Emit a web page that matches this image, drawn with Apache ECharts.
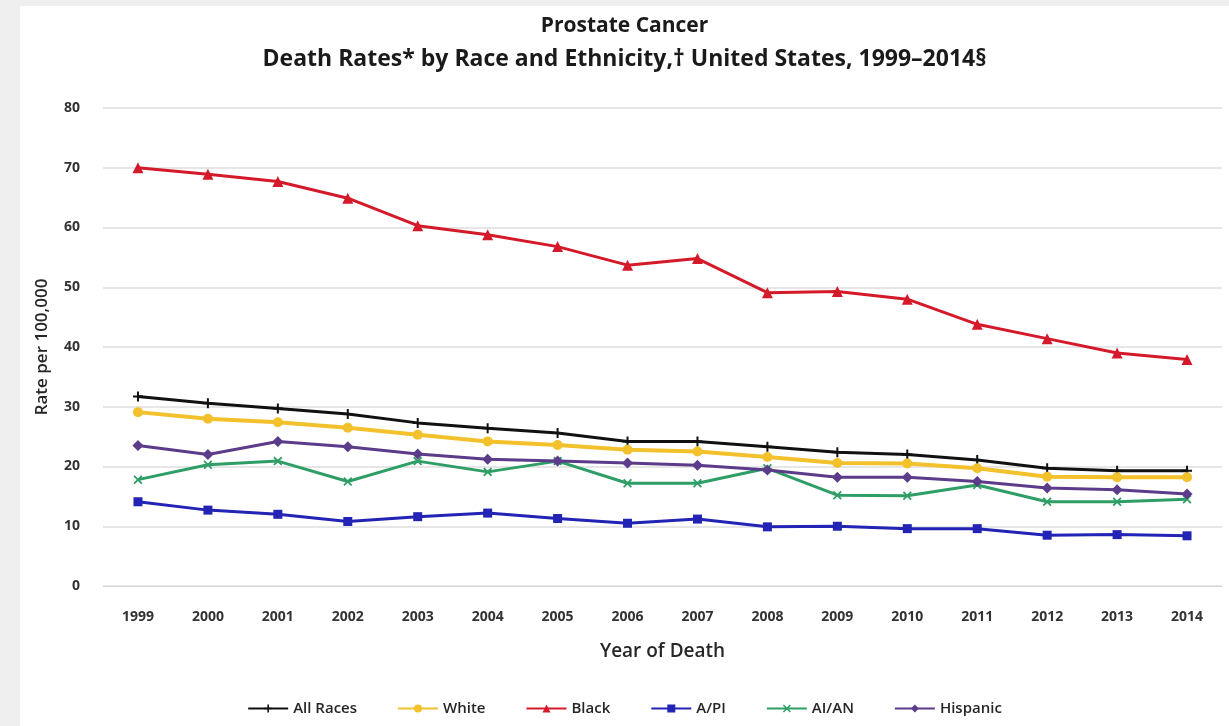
<!DOCTYPE html>
<html>
<head>
<meta charset="utf-8">
<script src="https://cdn.jsdelivr.net/npm/echarts@6/dist/echarts.min.js"></script>
<style>
  html, body { margin: 0; padding: 0; background: #efefef; width: 1229px; height: 726px; overflow: hidden; }
  #chart { position: absolute; left: 20px; top: 6px; width: 1209px; height: 720px; background: #ffffff; }
</style>
</head>
<body>
<div id="chart"></div>
<script>
// Prostate cancer death rates per 100,000 by race and ethnicity, 1999–2014
const years = ['1999','2000','2001','2002','2003','2004','2005','2006','2007','2008','2009','2010','2011','2012','2013','2014'];
const allRaces = [31.7, 30.6, 29.7, 28.8, 27.3, 26.4, 25.6, 24.2, 24.2, 23.3, 22.4, 22.0, 21.1, 19.7, 19.3, 19.3];
const white    = [29.1, 28.0, 27.4, 26.5, 25.3, 24.2, 23.6, 22.8, 22.5, 21.6, 20.6, 20.5, 19.7, 18.3, 18.2, 18.2];
const black    = [70.0, 68.9, 67.7, 64.9, 60.3, 58.8, 56.8, 53.7, 54.8, 49.1, 49.3, 48.0, 43.8, 41.4, 39.0, 37.9];
const api      = [14.1, 12.7, 12.0, 10.8, 11.6, 12.2, 11.3, 10.5, 11.2,  9.9, 10.0,  9.6,  9.6,  8.5,  8.6,  8.4];
const aian     = [17.8, 20.3, 20.9, 17.5, 20.9, 19.1, 20.9, 17.2, 17.2, 19.7, 15.2, 15.1, 16.9, 14.1, 14.1, 14.5];
const hispanic = [23.5, 22.0, 24.2, 23.3, 22.1, 21.2, 20.9, 20.6, 20.2, 19.4, 18.2, 18.2, 17.5, 16.4, 16.1, 15.4];
const yTicks = { min: 0, max: 80, step: 10 };

const FONT = '"Open Sans", "Liberation Sans", sans-serif';
const plusPath = 'path://M4,0H6V4H10V6H6V10H4V6H0V4H4Z';
const crossPath = 'path://M1.4,0L5,3.6L8.6,0L10,1.4L6.4,5L10,8.6L8.6,10L5,6.4L1.4,10L0,8.6L3.6,5L0,1.4Z';

function line(name, data, color, symbol, size, width) {
  return {
    name: name,
    type: 'line',
    data: data,
    symbol: symbol,
    symbolSize: size,
    showSymbol: true,
    lineStyle: { color: color, width: width },
    itemStyle: { color: color },
    emphasis: { disabled: true }
  };
}

const chart = echarts.init(document.getElementById('chart'), null, { renderer: 'canvas' });
chart.setOption({
  animation: false,
  backgroundColor: '#ffffff',
  title: [
    {
      text: 'Prostate Cancer',
      left: 'center', top: 5,
      textStyle: { fontFamily: FONT, fontSize: 21, fontWeight: 700, color: '#1a1a1a' }
    },
    {
      text: 'Death Rates* by Race and Ethnicity,\u2020 United States, 1999\u20132014\u00a7',
      left: 'center', top: 37,
      textStyle: { fontFamily: FONT, fontSize: 23, fontWeight: 700, color: '#1a1a1a' }
    }
  ],
  legend: {
    bottom: 5,
    left: 'center',
    itemWidth: 40,
    itemHeight: 10,
    itemGap: 40,
    textStyle: { fontFamily: FONT, fontSize: 15, fontWeight: 600, color: '#262626' },
    data: ['All Races', 'White', 'Black', 'A/PI', 'AI/AN', 'Hispanic']
  },
  grid: { left: 83, right: 7, top: 102, bottom: 140 },
  xAxis: {
    type: 'category',
    data: years,
    boundaryGap: true,
    name: 'Year of Death',
    nameLocation: 'middle',
    nameGap: 56,
    nameTextStyle: { fontFamily: FONT, fontSize: 19, fontWeight: 600, color: '#262626' },
    axisLine: { show: true, lineStyle: { color: '#d9d9d9', width: 1 } },
    axisTick: { show: false },
    axisLabel: { margin: 24, fontFamily: FONT, fontSize: 14, fontWeight: 700, color: '#333333' }
  },
  yAxis: {
    type: 'value',
    min: yTicks.min, max: yTicks.max, interval: yTicks.step,
    name: 'Rate per 100,000',
    nameLocation: 'middle',
    nameGap: 52,
    nameTextStyle: { fontFamily: FONT, fontSize: 17, fontWeight: 600, color: '#262626' },
    axisLine: { show: false },
    axisTick: { show: false },
    axisLabel: { margin: 23, fontFamily: FONT, fontSize: 14, fontWeight: 700, color: '#333333' },
    splitLine: { lineStyle: { color: '#e6e6e6', width: 2 } }
  },
  series: [
    line('All Races', allRaces, '#111111', plusPath, 10, 3),
    line('White', white, '#f2c12c', 'circle', 10, 4),
    line('Black', black, '#d41a2a', 'triangle', 11, 3),
    line('A/PI', api, '#2323b5', 'rect', 9, 3),
    line('AI/AN', aian, '#2f9e66', crossPath, 9, 3),
    line('Hispanic', hispanic, '#5b3b8a', 'diamond', 11, 3)
  ]
});
</script>
</body>
</html>
